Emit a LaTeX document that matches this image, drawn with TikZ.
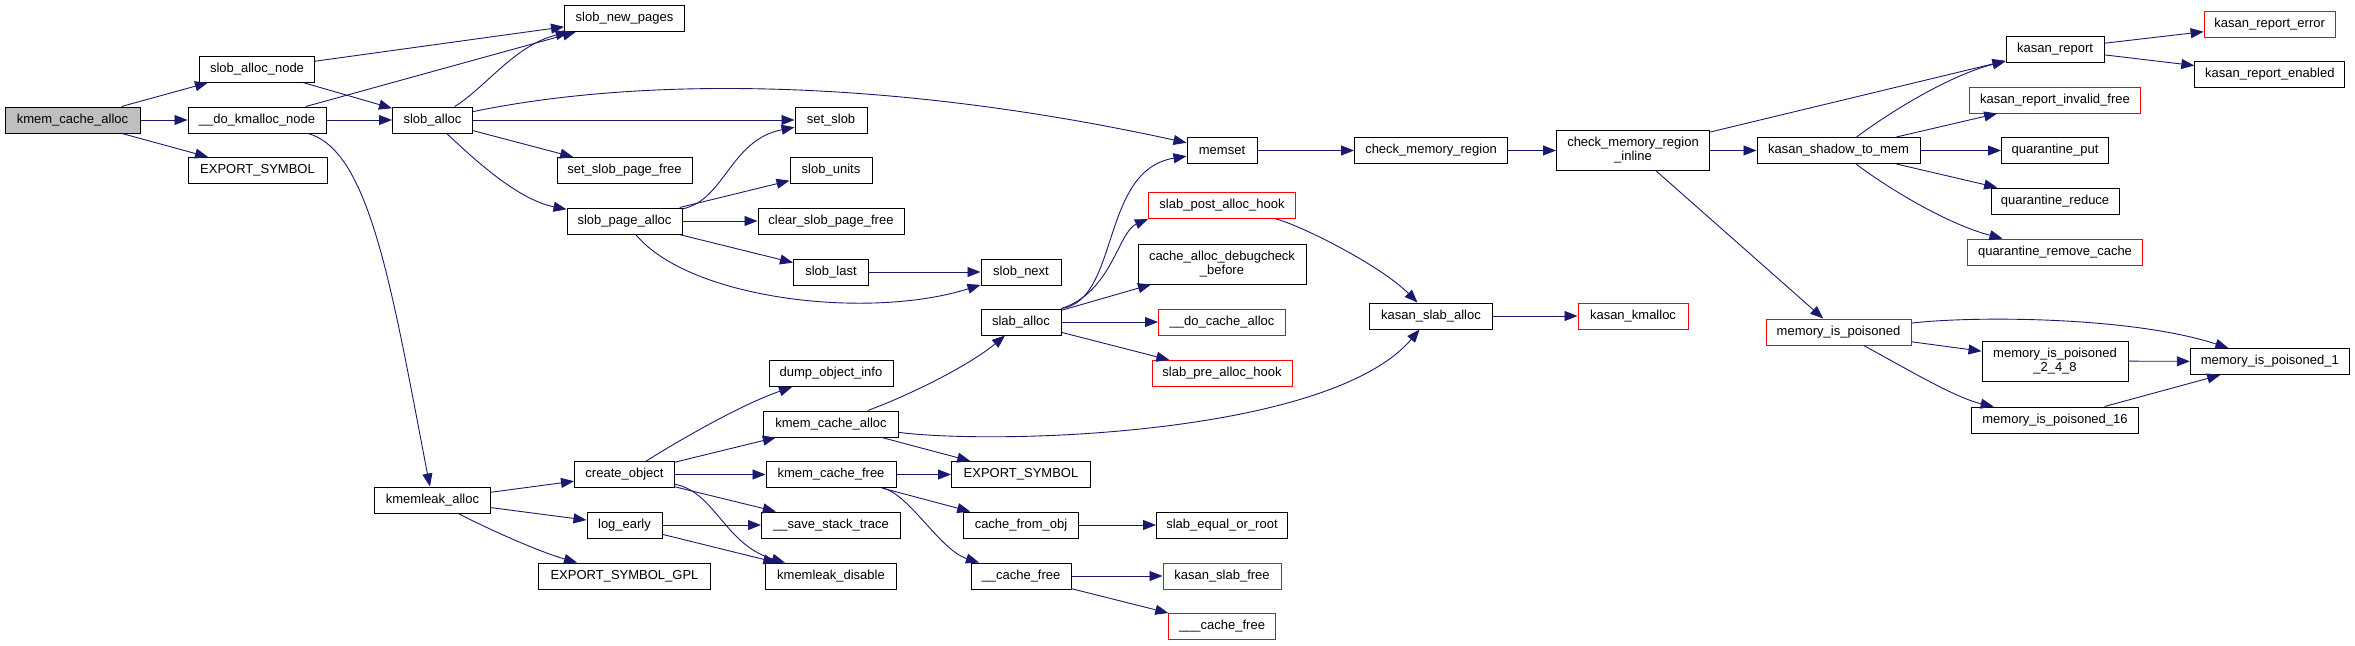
\documentclass[tikz,border=0pt]{standalone}
\usepackage{fontspec}
\setmainfont{Liberation Sans}
\usetikzlibrary{arrows.meta}
\definecolor{edgec}{HTML}{191970}
\begin{document}
\begin{tikzpicture}[x=1pt,y=-1pt,
 box/.style={draw=black, line width=1pt, fill=white, inner sep=0pt, font=\fontsize{13}{14}\selectfont, align=center, minimum height=26pt},
 tbox/.style={box, draw=red},
 rbox/.style={box, fill=gray!50},
 tall/.style={minimum height=40pt},
 edge/.style={draw=edgec, line width=0.9pt, -{Triangle[length=13pt,width=10pt]}}]
\fill[white] (0,0) rectangle (2355,645);
\useasboundingbox (0,0) rectangle (2355,645);
% column 1
\node[rbox, minimum width=135pt] (kca) at (72.5,120) {kmem\_cache\_alloc};
% column 2
\node[box, minimum width=115pt] (san) at (257,69.2) {slob\_alloc\_node};
\node[box, minimum width=138pt] (dkn) at (257,120) {\_\_do\_kmalloc\_node};
\node[box, minimum width=139pt] (es1) at (257.5,170.5) {EXPORT\_SYMBOL};
% column 3
\node[box, minimum width=80pt] (sa) at (432.5,120) {slob\_alloc};
\node[box, minimum width=116pt] (kla) at (432.5,500) {kmemleak\_alloc};
% column 4
\node[box, minimum width=120pt] (snp) at (624.5,18.5) {slob\_new\_pages};
\node[box, minimum width=135pt] (sspf) at (624.5,170.5) {set\_slob\_page\_free};
\node[box, minimum width=115pt] (spa) at (624.5,221) {slob\_page\_alloc};
\node[box, minimum width=100pt] (co) at (624.5,474.5) {create\_object};
\node[box, minimum width=75pt] (le) at (624.5,525) {log\_early};
\node[box, minimum width=172pt] (esg) at (624.5,576) {EXPORT\_SYMBOL\_GPL};
% column 5
\node[box, minimum width=72pt] (ss) at (831,120) {set\_slob};
\node[box, minimum width=82pt] (su) at (831,170.5) {slob\_units};
\node[box, minimum width=146pt] (cspf) at (831,221) {clear\_slob\_page\_free};
\node[box, minimum width=75pt] (sl) at (831,272) {slob\_last};
\node[box, minimum width=124pt] (doi) at (831,373.5) {dump\_object\_info};
\node[box, minimum width=135pt] (kca2) at (831,424) {kmem\_cache\_alloc};
\node[box, minimum width=130pt] (kcf) at (831,474.5) {kmem\_cache\_free};
\node[box, minimum width=139pt] (sst) at (831,525) {\_\_save\_stack\_trace};
\node[box, minimum width=131pt] (kd) at (831,576) {kmemleak\_disable};
% column 6
\node[box, minimum width=80pt] (sn) at (1021,272) {slob\_next};
\node[box, minimum width=80pt] (slab) at (1021,322) {slab\_alloc};
\node[box, minimum width=139pt] (es2) at (1021,474.5) {EXPORT\_SYMBOL};
\node[box, minimum width=115pt] (cfo) at (1021,525) {cache\_from\_obj};
\node[box, minimum width=100pt] (cf) at (1021,576) {\_\_cache\_free};
% column 7
\node[box, minimum width=70pt] (ms) at (1222,150.5) {memset};
\node[tbox, minimum width=147pt] (spah) at (1222,205.5) {slab\_post\_alloc\_hook};
\node[box, tall, minimum width=168pt] (cadb) at (1222,264) {cache\_alloc\_debugcheck\\\_before};
\node[tbox, minimum width=127pt] (dca) at (1222,322) {\_\_do\_cache\_alloc};
\node[tbox, minimum width=140pt] (sprah) at (1222,373.5) {slab\_pre\_alloc\_hook};
\node[box, minimum width=131pt] (seor) at (1222,525) {slab\_equal\_or\_root};
\node[tbox, minimum width=118pt] (ksf) at (1222,576) {kasan\_slab\_free};
\node[tbox, minimum width=107pt] (ccf) at (1222,626.5) {\_\_\_cache\_free};
% column 8
\node[box, minimum width=153pt] (cmr) at (1431,150.5) {check\_memory\_region};
\node[box, minimum width=123pt] (ksa) at (1431,316) {kasan\_slab\_alloc};
% column 9
\node[box, tall, minimum width=153pt] (cmri) at (1633,150.5) {check\_memory\_region\\\_inline};
\node[tbox, minimum width=110pt] (kk) at (1633,316) {kasan\_kmalloc};
% column 10
\node[box, minimum width=163pt] (kstm) at (1838.5,150.5) {kasan\_shadow\_to\_mem};
\node[tbox, minimum width=145pt] (mip) at (1838.5,332) {memory\_is\_poisoned};
% column 11
\node[box, minimum width=98pt] (kr) at (2055,49) {kasan\_report};
\node[tbox, minimum width=171pt] (krif) at (2055,100) {kasan\_report\_invalid\_free};
\node[box, minimum width=107pt] (qp) at (2055,150.5) {quarantine\_put};
\node[box, minimum width=128pt] (qr) at (2055,201) {quarantine\_reduce};
\node[tbox, minimum width=175pt] (qrc) at (2055,252) {quarantine\_remove\_cache};
\node[box, tall, minimum width=146pt] (mip248) at (2055,361) {memory\_is\_poisoned\\\_2\_4\_8};
\node[box, minimum width=167pt] (mip16) at (2055,420) {memory\_is\_poisoned\_16};
% column 12
\node[tbox, minimum width=131pt] (kre) at (2269.6,24) {kasan\_report\_error};
\node[box, minimum width=150pt] (kren) at (2269.8,74.5) {kasan\_report\_enabled};
\node[box, minimum width=159pt] (mip1) at (2269.8,361.5) {memory\_is\_poisoned\_1};

% edges
\draw[edge] (kca) -- (san);
\draw[edge] (kca) -- (dkn);
\draw[edge] (kca) -- (es1);
\draw[edge] (san) -- (snp);
\draw[edge] (san) -- (sa);
\draw[edge] (dkn) -- (snp);
\draw[edge] (dkn) -- (sa);
\draw[edge] (dkn) .. controls (370,150) and (392,290) .. (kla);
\draw[edge] (sa) .. controls (485,88) and (515,45) .. (snp);
\draw[edge] (sa) .. controls (650,75) and (900,80) .. (ms);
\draw[edge] (sa) -- (ss);
\draw[edge] (sa) -- (sspf);
\draw[edge] (sa) .. controls (480,165) and (520,200) .. (spa);
\draw[edge] (spa) .. controls (725,200) and (730,140) .. (ss);
\draw[edge] (spa) -- (su);
\draw[edge] (spa) -- (cspf);
\draw[edge] (spa) -- (sl);
\draw[edge] (spa) .. controls (690,300) and (870,320) .. (sn);
\draw[edge] (sl) -- (sn);
\draw[edge] (slab.north east) .. controls (1120,300) and (1100,170) .. (ms);
\draw[edge] (slab.north east) .. controls (1112,292) and (1118,232) .. (spah.south west);
\draw[edge] (slab) -- (cadb);
\draw[edge] (slab) -- (dca);
\draw[edge] (slab) -- (sprah);
\draw[edge] (ms) -- (cmr);
\draw[edge] (cmr) -- (cmri);
\draw[edge] (cmri) -- (kr);
\draw[edge] (cmri) -- (kstm);
\draw[edge] (cmri) -- (mip);
\draw[edge] (spah) .. controls (1300,225) and (1380,265) .. (ksa);
\draw[edge] (ksa) -- (kk);
\draw[edge] (kstm) .. controls (1890,112) and (1950,75) .. (kr);
\draw[edge] (kstm) -- (krif);
\draw[edge] (kstm) -- (qp);
\draw[edge] (kstm) -- (qr);
\draw[edge] (kstm) .. controls (1890,190) and (1950,225) .. (qrc);
\draw[edge] (kr) -- (kre);
\draw[edge] (kr) -- (kren);
\draw[edge] (mip) .. controls (1970,316) and (2130,316) .. (mip1);
\draw[edge] (mip) -- (mip248);
\draw[edge] (mip) .. controls (1900,365) and (1955,398) .. (mip16);
\draw[edge] (mip248) -- (mip1);
\draw[edge] (mip16) -- (mip1);
\draw[edge] (kla) -- (co);
\draw[edge] (kla) -- (le);
\draw[edge] (kla) .. controls (490,530) and (540,552) .. (esg);
\draw[edge] (co) .. controls (680,440) and (740,405) .. (doi);
\draw[edge] (co) -- (kca2);
\draw[edge] (co) -- (kcf);
\draw[edge] (co) -- (sst);
\draw[edge] (co) .. controls (715,492) and (725,545) .. (kd);
\draw[edge] (le) -- (sst);
\draw[edge] (le) -- (kd);
\draw[edge] (kca2) .. controls (910,395) and (970,365) .. (slab);
\draw[edge] (kca2) .. controls (1000,445) and (1330,435) .. (ksa);
\draw[edge] (kca2) -- (es2);
\draw[edge] (kcf) -- (es2);
\draw[edge] (kcf) -- (cfo);
\draw[edge] (kcf) .. controls (910,495) and (940,550) .. (cf);
\draw[edge] (cfo) -- (seor);
\draw[edge] (cf) -- (ksf);
\draw[edge] (cf) -- (ccf);
\end{tikzpicture}
\end{document}
